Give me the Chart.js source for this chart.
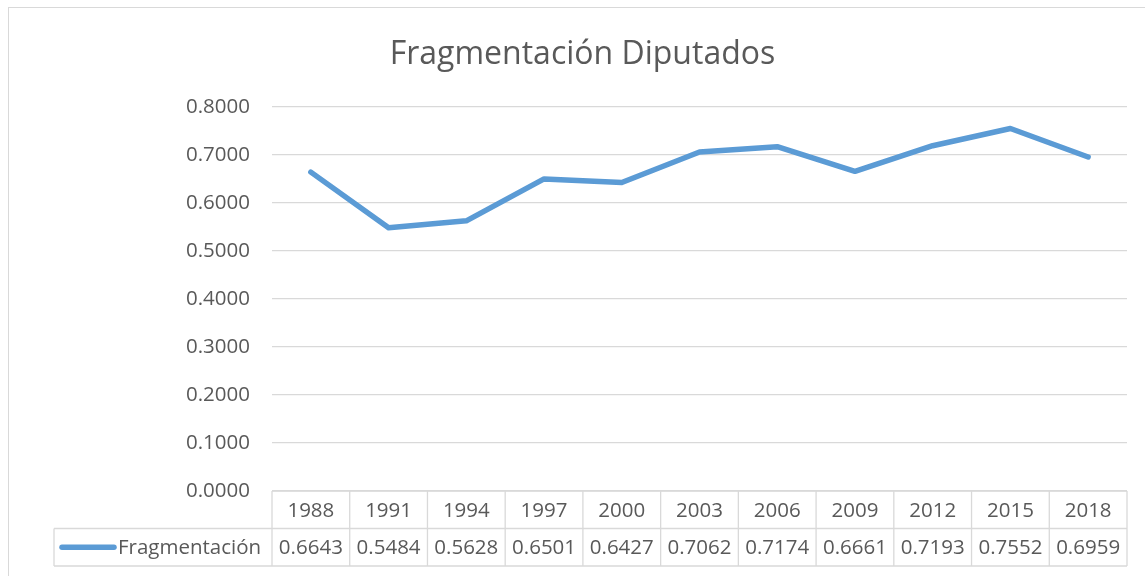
<!DOCTYPE html>
<html>
<head>
<meta charset="utf-8">
<script src="https://cdn.jsdelivr.net/npm/chart.js@4"></script>
<style>
  html, body { margin: 0; padding: 0; background: #fff; }
  #wrap { position: relative; width: 1145px; height: 576px; }
  #frame { position: absolute; left: 8px; top: 7px; width: 1150px; height: 600px; border: 1px solid #d9d9d9; box-sizing: border-box; }
  canvas { position: absolute; left: 0; top: 0; }
</style>
</head>
<body>
<div id="wrap">
  <div id="frame"></div>
  <canvas id="chart" width="1145" height="576"></canvas>
</div>
<script>
// Data
const years = ['1988', '1991', '1994', '1997', '2000', '2003', '2006', '2009', '2012', '2015', '2018'];
const fragmentacion = [0.6643, 0.5484, 0.5628, 0.6501, 0.6427, 0.7062, 0.7174, 0.6661, 0.7193, 0.7552, 0.6959];
const seriesName = 'Fragmentación';
const chartTitle = 'Fragmentación Diputados';

const textColor = '#595959';
const gridColor = '#d9d9d9';
const lineColor = '#5b9bd5';
const fontFamily = '"Open Sans", "Noto Sans", sans-serif';
const labelSize = 20.5;

// draws the Excel-style data table under the plot
const dataTablePlugin = {
    id: 'dataTable',
    afterDraw(chart) {
        const ctx = chart.ctx;
        const x = chart.scales.x;
        const area = chart.chartArea;
        const rowH = 37.5;
        const top = area.bottom;
        const mid = top + rowH;
        const bottom = mid + rowH;
        const legendLeft = 54;
        const half = (x.getPixelForValue(1) - x.getPixelForValue(0)) / 2;

        ctx.save();
        ctx.strokeStyle = gridColor;
        ctx.lineWidth = 1.3;
        ctx.beginPath();
        // horizontal lines
        ctx.moveTo(area.left, top); ctx.lineTo(area.right, top);
        ctx.moveTo(legendLeft, mid); ctx.lineTo(area.right, mid);
        ctx.moveTo(legendLeft, bottom); ctx.lineTo(area.right, bottom);
        // vertical lines
        ctx.moveTo(legendLeft, mid); ctx.lineTo(legendLeft, bottom);
        years.forEach((y, i) => {
            const px = x.getPixelForValue(i) - half;
            ctx.moveTo(px, top); ctx.lineTo(px, bottom);
        });
        ctx.moveTo(area.right, top); ctx.lineTo(area.right, bottom);
        ctx.stroke();

        ctx.fillStyle = textColor;
        ctx.font = labelSize + 'px ' + fontFamily;
        ctx.textAlign = 'center';
        ctx.textBaseline = 'middle';
        years.forEach((y, i) => {
            const px = x.getPixelForValue(i);
            ctx.fillText(y, px, (top + mid) / 2 + 1);
            ctx.fillText(fragmentacion[i].toFixed(4), px, (mid + bottom) / 2 + 1);
        });

        // legend key
        ctx.strokeStyle = lineColor;
        ctx.lineWidth = 5.5;
        ctx.lineCap = 'round';
        ctx.beginPath();
        ctx.moveTo(62, (mid + bottom) / 2);
        ctx.lineTo(114, (mid + bottom) / 2);
        ctx.stroke();
        ctx.textAlign = 'left';
        ctx.fillText(seriesName, 118, (mid + bottom) / 2 + 1);
        ctx.restore();
    }
};

new Chart(document.getElementById('chart'), {
    type: 'line',
    data: {
        labels: years,
        datasets: [{
            label: seriesName,
            data: fragmentacion,
            borderColor: lineColor,
            backgroundColor: lineColor,
            borderWidth: 5.5,
            pointRadius: 0,
            tension: 0,
            borderCapStyle: 'round',
            borderJoinStyle: 'round'
        }]
    },
    options: {
        responsive: false,
        animation: false,
        layout: { padding: { left: 38, right: 18, top: 0, bottom: 85 } },
        plugins: {
            legend: { display: false },
            tooltip: { enabled: false },
            title: {
                display: true,
                text: chartTitle,
                color: textColor,
                font: { family: fontFamily, size: 32, weight: 'normal' },
                padding: { top: 36, bottom: 32.6 }
            }
        },
        scales: {
            x: {
                display: false,
                offset: true
            },
            y: {
                min: 0,
                max: 0.8,
                afterFit: s => { s.width = 234; },
                border: { display: false },
                grid: { color: gridColor, lineWidth: 1.3, drawTicks: false },
                ticks: {
                    stepSize: 0.1,
                    padding: 22,
                    color: textColor,
                    font: { family: fontFamily, size: labelSize },
                    callback: v => v.toFixed(4)
                }
            }
        }
    },
    plugins: [dataTablePlugin]
});
</script>
</body>
</html>
